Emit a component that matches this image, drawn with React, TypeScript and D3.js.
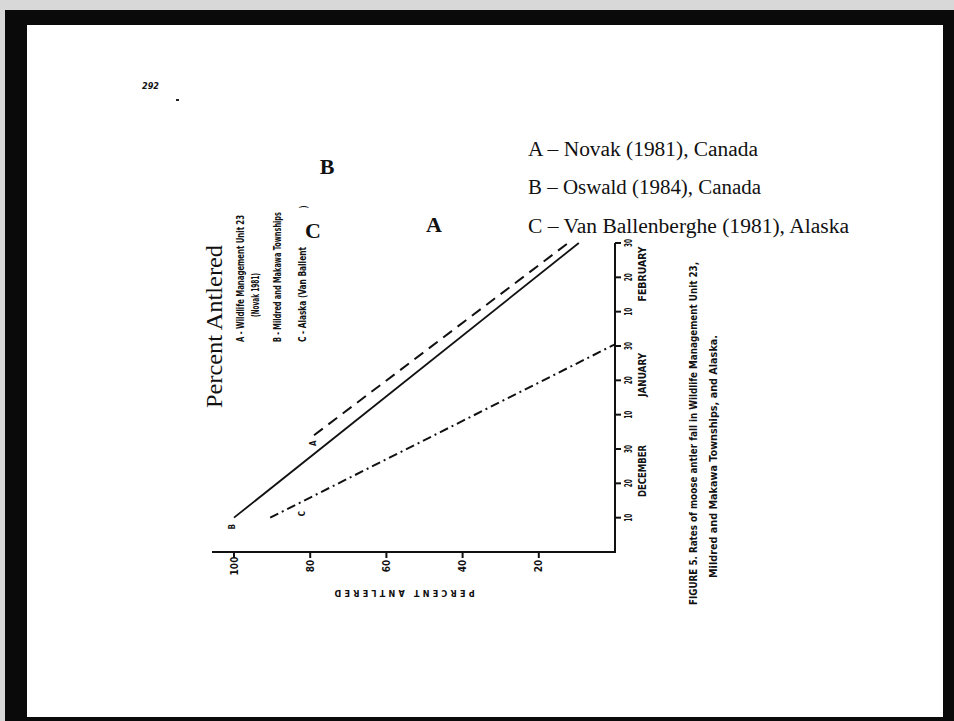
import React from "react";
import * as d3 from "d3";

// ---- data (original chart: x = day counted from 1 Dec as a 30-day month calendar, y = percent antlered)
const seriesNames = ["A", "B", "C"];
const seriesA = [
  { day: 34, pct: 79 },
  { day: 90, pct: 12.3 },
];
const seriesB = [
  { day: 10, pct: 100 },
  { day: 90, pct: 9.5 },
];
const seriesC = [
  { day: 10, pct: 90.5 },
  { day: 60.5, pct: 0 },
];
const pctTicks = [100, 80, 60, 40, 20];
const dayTicks = [10, 20, 30, 40, 50, 60, 70, 80, 90];
const dayTickLabels = ["10", "20", "30", "10", "20", "30", "10", "20", "30"];
const months = ["DECEMBER", "JANUARY", "FEBRUARY"];
const monthCenters = [23.6, 51.6, 81];
const smallLegend = [
  "A - Wildlife Management Unit 23",
  "(Novak 1981)",
  "B - Mildred and Makawa Townships",
  "C - Alaska (Van Ballent",
];
const bigLegend = [
  "A \u2013 Novak (1981), Canada",
  "B \u2013 Oswald (1984), Canada",
  "C \u2013 Van Ballenberghe (1981), Alaska",
];
const caption = [
  "FIGURE 5.  Rates of moose antler fall in Wildlife Management Unit 23,",
  "Mildred and Makawa Townships, and Alaska.",
];

const W = 954;
const H = 721;

export default function App() {
  const yDay = d3.scaleLinear().domain([0, 90]).range([552, 243]);
  const xPct = d3.scaleLinear().domain([0, 100]).range([615, 234]);
  const line = d3
    .line<{ day: number; pct: number }>()
    .x((d) => xPct(d.pct))
    .y((d) => yDay(d.day));

  const cond = "'DejaVu Sans Condensed', 'DejaVu Sans', sans-serif";
  const serif = "'Liberation Serif', 'Times New Roman', serif";
  const rot = (x: number, y: number) => `translate(${x},${y}) rotate(-90)`;

  return (
    <svg
      width={W}
      height={H}
      viewBox={`0 0 ${W} ${H}`}
      style={{ position: "absolute", left: 0, top: 0, display: "block" }}
    >
      {/* scanned page frame */}
      <rect x={0} y={0} width={W} height={H} fill="#d8d8d8" />
      <rect x={5} y={10} width={W - 5} height={H - 10} fill="#0a0a0a" />
      <rect x={27} y={25} width={916} height={692} fill="#ffffff" />

      <text x={142} y={89} fontFamily={cond} fontWeight="bold" fontSize={9} fontStyle="italic" fill="#111">
        292
      </text>
      <rect x={176} y={99} width={3} height={2} fill="#222" />

      {/* axes */}
      <line x1={212} y1={552} x2={615} y2={552} stroke="#111" strokeWidth={2} />
      <line x1={615} y1={553} x2={615} y2={243} stroke="#111" strokeWidth={2} />
      {pctTicks.map((p) => (
        <g key={"pt" + p}>
          <line x1={xPct(p)} y1={552} x2={xPct(p)} y2={558} stroke="#111" strokeWidth={2} />
          <text
            transform={rot(xPct(p), 566)}
            textAnchor="middle"
            dominantBaseline="central"
            fontFamily={cond}
            fontWeight="bold"
            fontSize={10}
            fill="#111"
          >
            {p}
          </text>
        </g>
      ))}
      <text
        transform={`translate(403,593) rotate(180)`}
        textAnchor="middle"
        dominantBaseline="central"
        fontFamily={cond}
        fontWeight="bold"
        fontSize={9}
        letterSpacing={3.2}
        fill="#111"
      >
        PERCENT ANTLERED
      </text>

      {dayTicks.map((d, i) => (
        <g key={"dt" + d}>
          <line x1={615} y1={yDay(d)} x2={621} y2={yDay(d)} stroke="#111" strokeWidth={2} />
          <text
            transform={rot(628, yDay(d))}
            textAnchor="middle"
            dominantBaseline="central"
            fontFamily={cond}
            fontWeight="bold"
            fontSize={10}
            textLength={8}
            lengthAdjust="spacingAndGlyphs"
            fill="#111"
          >
            {dayTickLabels[i]}
          </text>
        </g>
      ))}
      {months.map((m, i) => (
        <text
          key={m}
          transform={rot(642, yDay(monthCenters[i]))}
          textAnchor="middle"
          dominantBaseline="central"
          fontFamily={cond}
          fontWeight="bold"
          fontSize={10}
          textLength={[52, 44, 55][i]}
          lengthAdjust="spacingAndGlyphs"
          fill="#111"
        >
          {m}
        </text>
      ))}

      {/* series lines */}
      <path d={line(seriesA) || ""} fill="none" stroke="#111" strokeWidth={2} strokeDasharray="11,7" />
      <path d={line(seriesB) || ""} fill="none" stroke="#111" strokeWidth={1.8} />
      <path d={line(seriesC) || ""} fill="none" stroke="#111" strokeWidth={2} strokeDasharray="9,4,2,4" />

      {/* small line labels */}
      <text transform={rot(xPct(seriesB[0].pct) - 2, yDay(seriesB[0].day) + 9)} textAnchor="middle" dominantBaseline="central" fontFamily={cond} fontWeight="bold" fontSize={8} fill="#111">
        {seriesNames[1]}
      </text>
      <text transform={rot(xPct(seriesA[0].pct) - 1, yDay(seriesA[0].day) + 8)} textAnchor="middle" dominantBaseline="central" fontFamily={cond} fontWeight="bold" fontSize={8} fill="#111">
        {seriesNames[0]}
      </text>
      <text transform={rot(xPct(seriesC[0].pct) + 32, yDay(seriesC[0].day) - 4)} textAnchor="middle" dominantBaseline="central" fontFamily={cond} fontWeight="bold" fontSize={8} fill="#111">
        {seriesNames[2]}
      </text>

      {/* original small legend */}
      {smallLegend.map((t, i) => (
        <text
          key={t}
          transform={rot([240, 255, 277, 302][i], [342, 317, 342, 342][i])}
          dominantBaseline="central"
          fontFamily={cond}
          fontWeight="bold"
          fontSize={10}
          textLength={[127, 44, 130, 95][i]}
          lengthAdjust="spacingAndGlyphs"
          fill="#111"
        >
          {t}
        </text>
      ))}
      <text transform={rot(303, 207)} textAnchor="middle" dominantBaseline="central" fontFamily={cond} fontSize={10} fill="#111">
        )
      </text>

      {/* caption */}
      {caption.map((t, i) => (
        <text
          key={t}
          transform={rot([693, 713][i], [605, 578][i])}
          dominantBaseline="central"
          fontFamily={cond}
          fontWeight="bold"
          fontSize={10}
          textLength={[343, 243][i]}
          lengthAdjust="spacingAndGlyphs"
          fill="#111"
        >
          {t}
        </text>
      ))}

      {/* added overlay annotations */}
      <text transform={rot(222, 408)} fontFamily={serif} fontSize={24} textLength={163} lengthAdjust="spacingAndGlyphs" fill="#111">
        Percent Antlered
      </text>
      <text x={327} y={174} textAnchor="middle" fontFamily={serif} fontWeight="bold" fontSize={22} fill="#111">
        B
      </text>
      <text x={313} y={238} textAnchor="middle" fontFamily={serif} fontWeight="bold" fontSize={22} fill="#111">
        C
      </text>
      <text x={434} y={232} textAnchor="middle" fontFamily={serif} fontWeight="bold" fontSize={22} fill="#111">
        A
      </text>
      {bigLegend.map((t, i) => (
        <text
          key={t}
          x={528}
          y={[156, 194, 233][i]}
          fontFamily={serif}
          fontSize={20}
          textLength={[230, 233, 321][i]}
          lengthAdjust="spacingAndGlyphs"
          fill="#111"
        >
          {t}
        </text>
      ))}
    </svg>
  );
}
